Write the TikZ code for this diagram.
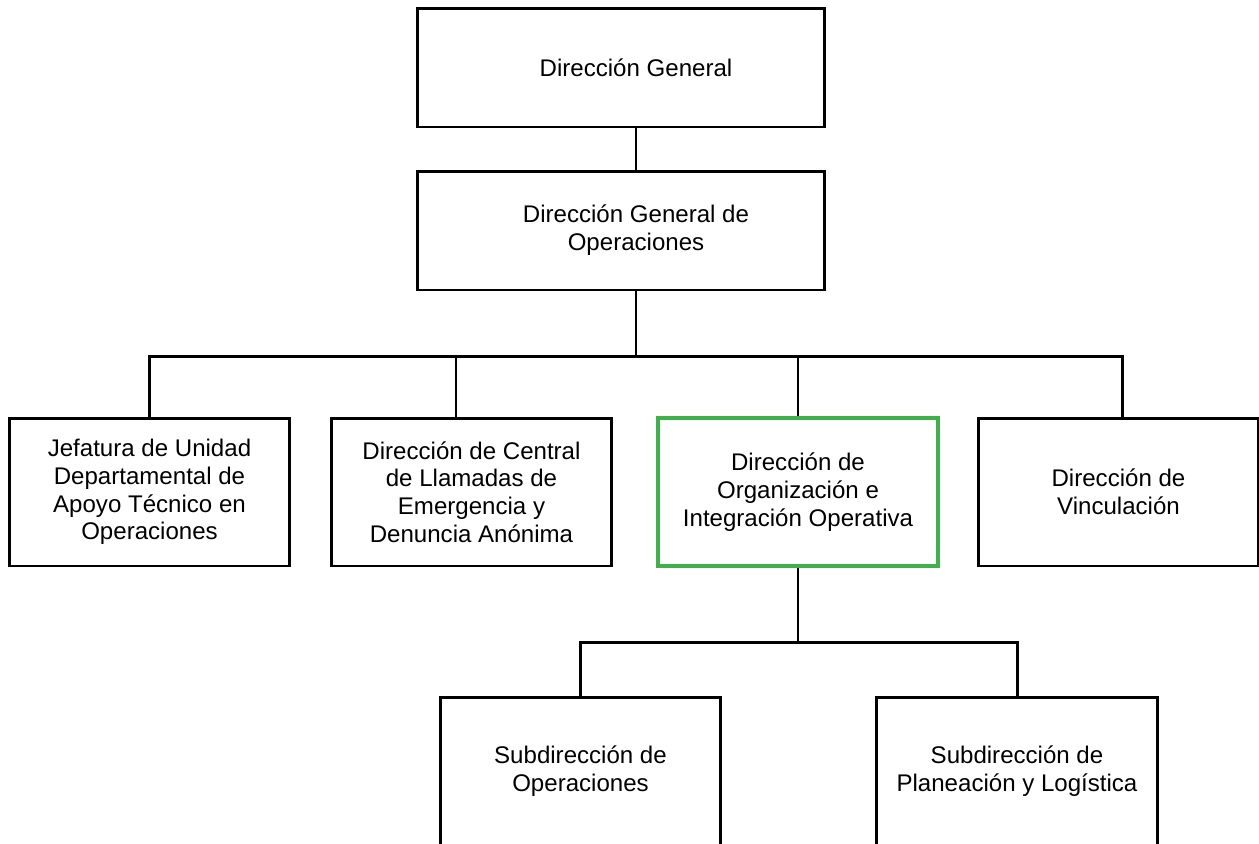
\documentclass[tikz,border=0pt]{standalone}
\usepackage{fontspec}
\setmainfont{Liberation Sans}
\usetikzlibrary{calc}
\definecolor{verde}{RGB}{62,178,72}
\begin{document}
\begin{tikzpicture}[x=0.02cm,y=-0.02cm,
  texto/.style={align=center,inner sep=0pt,font=\fontsize{13.7}{15.8}\selectfont},
  caja/.style={draw,line width=1.7pt,texto},
  ancha/.style={caja,minimum width=8.16cm,minimum height=2.38cm},
  media/.style={caja,minimum width=5.62cm,minimum height=2.96cm}]
\useasboundingbox (0,0) rectangle (1259,843);
\clip (0,0) rectangle (1259,843);

% text of the two top boxes sits over the spine, not the box centre
\node[ancha,label={[texto,xshift=0.3cm]center:Dirección General}] (dg) at (621,67.5) {};
\node[ancha,label={[texto,xshift=0.3cm]center:Dirección General de\\Operaciones}] (dgo) at (621,230.5) {};

\node[media] (jef) at (149.5,492) {Jefatura de Unidad\\Departamental de\\Apoyo Técnico en\\Operaciones};
\node[media] (cen) at (471.5,492) {Dirección de Central\\de Llamadas de\\Emergencia y\\Denuncia Anónima};
\node[media,draw=verde,line width=2.3pt] (org) at (798,492) {Dirección de\\Organización e\\Integración Operativa};
\node[media] (vin) at (1118.5,492) {Dirección de\\Vinculación};

\node[media] (sop) at (580.5,771) {Subdirección de\\Operaciones};
\node[media] (spl) at (1017,771) {Subdirección de\\Planeación y Logística};

\coordinate (eje) at (636,0);
\coordinate (barra) at (0,356);
\coordinate (barra2) at (0,642);

\begin{scope}[line width=1.7pt]
\draw (eje |- dg.south) -- (eje |- dgo.north);
\draw (eje |- dgo.south) -- (eje |- barra);
\draw (jef.north) -- (jef.north |- barra) -- ($(vin.north |- barra)+(3.5,0)$) -- ($(vin.north)+(3.5,0)$);
\draw ($(cen.north)+(-15.5,0)$) -- ($(cen.north |- barra)+(-15.5,0)$);
\draw (org.north |- barra) -- (org.north);

\draw (org.south) -- (org.south |- barra2);
\draw (sop.north) -- (sop.north |- barra2) -- (spl.north |- barra2) -- (spl.north);
\end{scope}
\end{tikzpicture}
\end{document}
